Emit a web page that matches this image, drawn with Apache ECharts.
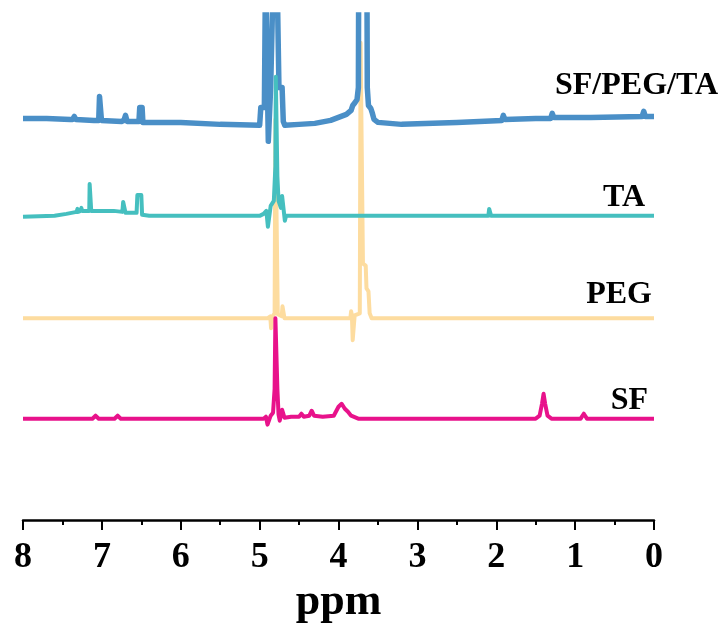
<!DOCTYPE html>
<html>
<head>
<meta charset="utf-8">
<script src="https://cdn.jsdelivr.net/npm/echarts@6/dist/echarts.min.js"></script>
<style>
  html, body { margin: 0; padding: 0; background: #fff; }
  #chart { width: 726px; height: 630px; }
</style>
</head>
<body>
<div id="chart"></div>
<script>
// spectra: [ppm, intensity above own baseline]
// peaks that run off the top are given large values and get clipped
const sfPegTa = [
  [8.00, -1], [7.70, -1], [7.40, -2], [7.37, -2], [7.35, 1], [7.33, -2],
  [7.10, -3], [7.04, -3], [7.03, 21], [7.015, 21], [7.005, -3],
  [6.75, -4], [6.72, -3], [6.70, 2], [6.68, -4],
  [6.53, -4], [6.52, 10], [6.49, 10], [6.48, -5],
  [6.00, -5], [5.50, -7], [5.00, -8], [4.99, -7], [4.985, 10], [4.94, 10],
  [4.925, 150], [4.905, 150], [4.89, -24], [4.875, -24], [4.86, 30],
  [4.825, 150], [4.78, 150], [4.755, 30], [4.715, 30], [4.70, -4], [4.68, -8],
  [4.50, -7], [4.30, -6], [4.10, -3], [4.00, 0], [3.90, 3], [3.84, 7],
  [3.82, 12], [3.79, 15], [3.765, 18], [3.748, 30],
  [3.695, 1500], [3.69, 1500], [3.635, 30], [3.62, 12], [3.59, 9],
  [3.57, 4], [3.55, -2], [3.50, -5], [3.20, -7], [2.50, -5],
  [1.93, -3], [1.91, 2], [1.89, -2], [1.50, -1],
  [1.31, -1], [1.29, 4], [1.27, 0], [0.80, 0],
  [0.15, 1], [0.13, 6], [0.11, 1], [0.00, 1]
];

const ta = [
  [8.00, -1], [7.60, 0], [7.45, 2], [7.32, 4], [7.31, 7], [7.30, 4],
  [7.27, 5], [7.26, 8], [7.25, 5], [7.16, 5], [7.155, 32], [7.14, 32],
  [7.135, 5], [7.00, 5], [6.85, 5], [6.74, 4], [6.73, 14], [6.71, 14],
  [6.70, 3], [6.56, 3], [6.55, 21], [6.50, 21], [6.49, 1], [6.40, 0],
  [5.50, 0], [5.00, 0], [4.95, 2], [4.915, 5], [4.895, -11], [4.88, -11],
  [4.86, 10], [4.82, 15], [4.80, 50], [4.795, 140], [4.785, 140],
  [4.775, 40], [4.76, 15], [4.73, 8], [4.715, 20], [4.69, 20],
  [4.68, -5], [4.665, 0], [4.00, 0],
  [2.10, 0], [2.09, 7], [2.075, 7], [2.065, 0],
  [1.18, 0], [1.17, 2], [1.16, 0], [0.00, 0]
];

const peg = [
  [8.00, 0], [5.00, 0], [4.90, 0], [4.865, 2], [4.855, -10], [4.845, -10],
  [4.835, 2], [4.81, 5], [4.80, 200], [4.785, 200], [4.77, 4],
  [4.72, 2], [4.71, 12], [4.695, 12], [4.685, 0],
  [3.90, 0], [3.85, 0], [3.84, 7], [3.83, 3], [3.82, -22], [3.805, -22],
  [3.795, 3], [3.73, 5], [3.72, 277], [3.705, 277], [3.69, 55],
  [3.655, 53], [3.645, 30], [3.62, 27], [3.605, 5], [3.58, 0],
  [1.26, 0], [1.25, 2], [1.24, 0], [0.00, 0]
];

const sf = [
  [8.00, 0], [7.12, 0], [7.08, 3], [7.04, 0], [6.84, 0], [6.80, 3], [6.76, 0],
  [4.95, 0], [4.92, 2], [4.90, -6], [4.88, -6], [4.86, 3], [4.83, 6],
  [4.81, 30], [4.80, 101], [4.785, 101], [4.775, 30], [4.76, 4],
  [4.745, -2], [4.73, 0], [4.715, 9], [4.70, 9], [4.685, 1],
  [4.60, 2], [4.50, 2], [4.47, 5], [4.44, 2], [4.37, 3], [4.34, 8], [4.31, 3],
  [4.20, 2], [4.06, 3], [4.00, 12], [3.96, 15], [3.92, 10], [3.88, 7],
  [3.84, 3], [3.75, 0], [3.00, 0], [2.98, 2], [2.95, 0],
  [1.50, 0], [1.45, 3], [1.42, 15], [1.40, 25], [1.38, 15], [1.35, 3],
  [1.30, 0], [0.93, 0], [0.89, 5], [0.85, 0], [0.00, 0]
];

const xTicks = [0, 1, 2, 3, 4, 5, 6, 7, 8];
const names = ['SF/PEG/TA', 'TA', 'PEG', 'SF'];
// vertical stacking of the traces
const offsets = {sfPegTa: 405, ta: 306, peg: 203, sf: 102};

const serif = 'Liberation Serif, Times New Roman, serif';

const shift = (arr, off) => arr.map(p => [p[0], p[1] + off]);

const chart = echarts.init(document.getElementById('chart'), null, {renderer: 'canvas'});

const mkLine = (name, data, color, width) => ({
  name: name,
  type: 'line',
  data: data,
  symbol: 'none',
  clip: true,
  silent: true,
  lineStyle: {color: color, width: width, join: 'round'}
});

const labelText = (text, right, y) => ({
  type: 'text',
  right: right,
  top: y,
  style: {
    text: text,
    font: 'bold 32px ' + serif,
    fill: '#000'
  }
});

const option = {
  animation: false,
  grid: {left: 23, right: 72, top: 15, bottom: 107},
  xAxis: {
    type: 'value',
    min: 0,
    max: 8,
    interval: 1,
    inverse: true,
    name: 'ppm',
    nameLocation: 'middle',
    nameGap: 60,
    nameTextStyle: {fontFamily: serif, fontWeight: 'bold', fontSize: 44, color: '#000'},
    axisLine: {lineStyle: {color: '#000', width: 2.5}},
    axisTick: {show: true, inside: false, length: 10, lineStyle: {width: 2, color: '#000'}},
    minorTick: {show: true, splitNumber: 2, length: 5, lineStyle: {width: 2, color: '#000'}},
    splitLine: {show: false},
    axisLabel: {
      margin: 20,
      fontFamily: serif,
      fontWeight: 'bold',
      fontSize: 36,
      color: '#000',
      formatter: v => xTicks.includes(v) ? String(v) : ''
    }
  },
  yAxis: {
    type: 'value',
    min: 0,
    max: 508,
    show: false
  },
  series: [
    mkLine(names[2], shift(peg, offsets.peg), '#fddc9f', 4),
    mkLine(names[0], shift(sfPegTa, offsets.sfPegTa), '#4a8fc7', 5.5),
    mkLine(names[1], shift(ta, offsets.ta), '#45bfbf', 4),
    mkLine(names[3], shift(sf, offsets.sf), '#e8128b', 4)
  ],
  graphic: [
    labelText(names[0], 8, 70),
    labelText(names[1], 81, 182),
    labelText(names[2], 74, 279),
    labelText(names[3], 78, 385)
  ]
};

chart.setOption(option);
</script>
</body>
</html>
